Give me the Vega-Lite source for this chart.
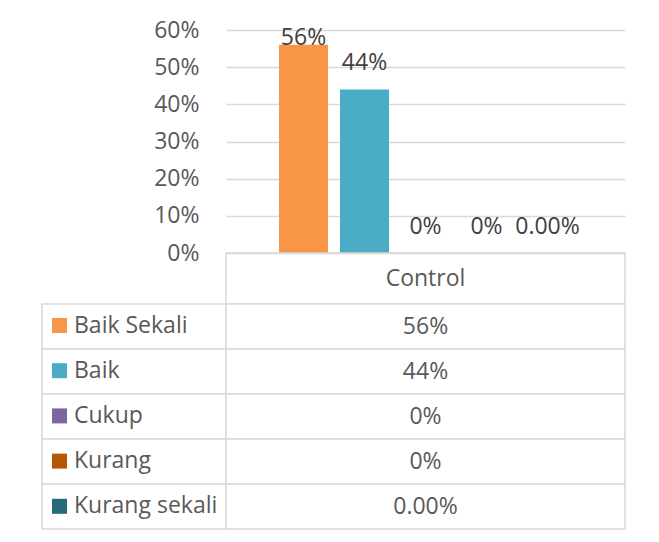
{
  "$schema": "https://vega.github.io/schema/vega-lite/v6.json",
  "background": "white",
  "padding": {"left": 41, "top": 19, "right": 5, "bottom": 5},
  "config": {
    "font": "Open Sans",
    "view": {"stroke": null},
    "axis": {"labelFont": "Open Sans"},
    "legend": {"labelFont": "Open Sans"}
  },
  "columns": 2,
  "spacing": 0,
  "bounds": "flush",
  "resolve": {
    "scale": {"x": "independent", "y": "independent", "color": "independent"},
    "axis": {"x": "independent", "y": "independent"},
    "legend": {"color": "independent"}
  },
  "concat": [
    {
      "width": 184, "height": 223,
      "data": {"values": [{}]},
      "mark": {"type": "text", "text": ""}
    },
    {
      "width": 399, "height": 223,
      "data": {"values": [
        {"cat": "Baik Sekali", "value": 0.56, "label": "56%"},
        {"cat": "Baik", "value": 0.44, "label": "44%"},
        {"cat": "Cukup", "value": 0.0, "label": "0%"},
        {"cat": "Kurang", "value": 0.0, "label": "0%"},
        {"cat": "Kurang sekali", "value": 0.0, "label": "0.00%"}
      ]},
      "encoding": {
        "x": {"field": "cat", "type": "nominal",
              "scale": {"domain": ["Baik Sekali", "Baik", "Cukup", "Kurang", "Kurang sekali"], "paddingInner": 0.197, "paddingOuter": 0.869},
              "axis": null},
        "y": {"field": "value", "type": "quantitative",
              "scale": {"domain": [0, 0.6], "nice": false},
              "axis": {"values": [0, 0.1, 0.2, 0.3, 0.4, 0.5, 0.6], "format": ".0%", "grid": true,
                       "gridColor": "#D9D9D9", "gridWidth": 1.5, "domain": false, "ticks": false, "tickSize": 0,
                       "labelPadding": 27, "labelFontSize": 23, "labelColor": "#595959", "title": null}}
      },
      "layer": [
        {
          "mark": {"type": "bar"},
          "encoding": {
            "color": {"field": "cat", "type": "nominal",
                      "scale": {"domain": ["Baik Sekali", "Baik", "Cukup", "Kurang", "Kurang sekali"],
                                "range": ["#F79646", "#4BACC6", "#8064A2", "#B65708", "#276A7C"]},
                      "legend": null}
          }
        },
        {
          "transform": [{"filter": "datum.value < 0.5"}],
          "mark": {"type": "text", "baseline": "alphabetic", "dy": -19, "fontSize": 23, "color": "#404040"},
          "encoding": {"text": {"field": "label"}}
        },
        {
          "transform": [{"filter": "datum.value >= 0.5"}],
          "mark": {"type": "text", "baseline": "alphabetic", "dy": 0, "fontSize": 23, "color": "#404040"},
          "encoding": {"text": {"field": "label"}}
        }
      ]
    },
    {
      "width": 184, "height": 51,
      "data": {"values": [{}]},
      "mark": {"type": "text", "text": ""}
    },
    {
      "width": 399, "height": 51,
      "view": {"stroke": "#D9D9D9", "strokeWidth": 1.5},
      "data": {"values": [{"h": "Control"}]},
      "mark": {"type": "text", "fontSize": 23, "color": "#595959", "baseline": "middle"},
      "encoding": {"text": {"field": "h"}}
    },
    {
      "width": 184, "height": 225,
      "data": {"values": [
        {"cat": "Baik Sekali", "label": "56%"},
        {"cat": "Baik", "label": "44%"},
        {"cat": "Cukup", "label": "0%"},
        {"cat": "Kurang", "label": "0%"},
        {"cat": "Kurang sekali", "label": "0.00%"}
      ]},
      "encoding": {
        "y": {"field": "cat", "type": "nominal", "sort": null,
              "scale": {"paddingInner": 0, "paddingOuter": 0}, "axis": null}
      },
      "layer": [
        {
          "mark": {"type": "rect", "fill": "white", "stroke": "#D9D9D9", "strokeWidth": 1.5}
        },
        {
          "mark": {"type": "text", "text": ""},
          "encoding": {
            "color": {"field": "cat", "type": "nominal",
                      "scale": {"domain": ["Baik Sekali", "Baik", "Cukup", "Kurang", "Kurang sekali"],
                                "range": ["#F79646", "#4BACC6", "#8064A2", "#B65708", "#276A7C"]},
                      "legend": {"orient": "none", "legendX": 6, "legendY": 10, "title": null, "padding": 0,
                                 "symbolType": "square", "symbolSize": 225, "symbolStrokeWidth": 0,
                                 "labelFontSize": 23, "labelColor": "#595959", "labelOffset": 3,
                                 "rowPadding": 21.2, "labelLimit": 400}}
          }
        }
      ]
    },
    {
      "width": 399, "height": 225,
      "data": {"values": [
        {"cat": "Baik Sekali", "label": "56%"},
        {"cat": "Baik", "label": "44%"},
        {"cat": "Cukup", "label": "0%"},
        {"cat": "Kurang", "label": "0%"},
        {"cat": "Kurang sekali", "label": "0.00%"}
      ]},
      "encoding": {
        "y": {"field": "cat", "type": "nominal", "sort": null,
              "scale": {"paddingInner": 0, "paddingOuter": 0}, "axis": null}
      },
      "layer": [
        {
          "mark": {"type": "rect", "fill": "white", "stroke": "#D9D9D9", "strokeWidth": 1.5}
        },
        {
          "mark": {"type": "text", "fontSize": 23, "color": "#595959", "baseline": "middle"},
          "encoding": {"text": {"field": "label"}}
        }
      ]
    }
  ]
}
